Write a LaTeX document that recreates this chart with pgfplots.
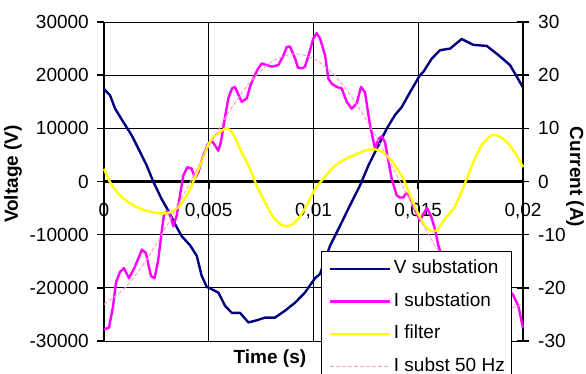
\documentclass[border=0pt]{standalone}
\usepackage{pgfplots}
\pgfplotsset{compat=1.18}
\usepackage{pgfplotstable}
\usepackage{fontspec}
\setmainfont{Liberation Sans}
\definecolor{vnavy}{RGB}{0,0,128}
\definecolor{imag}{RGB}{255,0,255}
\definecolor{iyel}{RGB}{255,255,0}
\definecolor{ipink}{RGB}{255,160,200}

\pgfplotstableread{
t v
0 17400
0.00029 16200
0.00053 13700
0.00092 11200
0.00132 8700
0.00164 6200
0.00204 3000
0.00235 0
0.00275 -3300
0.00307 -5500
0.00339 -8000
0.00371 -10300
0.00411 -12000
0.00443 -14000
0.00466 -17700
0.00490 -19800
0.00506 -20100
0.00546 -20900
0.00578 -23400
0.00610 -24700
0.00649 -24700
0.00689 -26500
0.00721 -26200
0.00769 -25600
0.00816 -25600
0.00864 -24300
0.00912 -22800
0.00959 -20900
0.01007 -18200
0.01031 -17400
0.01079 -12100
0.01127 -8300
0.01174 -4500
0.01222 -750
0.01262 3000
0.01302 6200
0.01349 9900
0.01389 12500
0.01421 14000
0.01461 16800
0.01508 20000
0.01524 20600
0.01564 23100
0.01604 24700
0.01652 25000
0.01707 26800
0.01763 25700
0.01827 25500
0.01882 23800
0.01938 21900
0.01994 18100
0.02 17700
}\vsub

\pgfplotstableread{
t i
0 -27.8
0.000239 -27.5
0.000430 -23.5
0.000573 -19.0
0.000764 -17.0
0.000955 -16.3
0.001193 -18.2
0.001480 -16.0
0.001814 -12.8
0.002005 -13.5
0.002243 -17.8
0.002411 -18.2
0.002578 -15.0
0.002721 -10.5
0.002864 -6.2
0.003031 -5.6
0.003150 -6.3
0.003308 -8.4
0.003470 -6.4
0.003628 -2.6
0.003785 1.1
0.003976 2.7
0.004186 2.4
0.004344 0.6
0.004501 1.7
0.004740 4.9
0.004964 7.0
0.005141 7.7
0.005298 6.8
0.005456 5.8
0.005585 7.5
0.005728 11.0
0.005933 15.6
0.006110 17.5
0.006253 17.8
0.006396 16.5
0.006573 15.0
0.006811 15.6
0.006969 17.8
0.007127 19.4
0.007351 21.2
0.007528 22.2
0.007766 21.9
0.008019 21.6
0.008320 21.9
0.008544 23.5
0.008721 25.3
0.008878 25.4
0.009117 23.2
0.009260 21.4
0.009451 21.3
0.009594 21.6
0.009785 24.0
0.009991 26.9
0.010153 27.9
0.010310 26.9
0.010549 23.8
0.010707 19.4
0.010869 18.4
0.011107 17.8
0.011346 17.5
0.011585 15.0
0.011823 13.7
0.012062 14.7
0.012267 17.8
0.012458 16.8
0.012697 10.6
0.012936 6.2
0.013103 8.0
0.013256 8.5
0.013413 7.4
0.013733 0.5
0.013971 -2.6
0.014129 -3.0
0.014287 -3.0
0.014415 -2.2
0.014559 -2.5
0.014749 -4.5
0.014926 -6.0
0.015084 -7.4
0.015227 -6.2
0.015418 -5.0
0.015609 -6.5
0.015800 -9.0
0.015957 -12.0
0.016277 -16.0
0.016754 -19.0
0.017470 -21.0
0.018425 -21.0
0.019141 -20.0
0.019508 -21.2
0.019776 -23.4
0.02 -27.5
}\isub

\pgfplotstableread{
t i
0 2.4
0.000286 -0.1
0.000764 -2.6
0.001399 -4.5
0.002038 -5.5
0.002673 -6.0
0.003150 -5.8
0.003628 -4.5
0.004105 -1.4
0.004582 3.0
0.005060 7.5
0.005537 9.3
0.005871 10.0
0.006172 8.9
0.006573 5.5
0.006969 2.4
0.007289 -0.75
0.007685 -3.9
0.008081 -6.7
0.008482 -8.2
0.008878 -8.3
0.009274 -7.0
0.009675 -4.5
0.010072 -1.4
0.010468 0.5
0.010945 2.7
0.011423 4.0
0.011900 4.9
0.012458 5.8
0.013017 6.0
0.013494 4.9
0.013890 3.0
0.014287 0.5
0.014687 -3.3
0.015165 -7.4
0.015561 -9.2
0.015881 -9.2
0.016277 -7.0
0.016673 -5.2
0.016993 -2.6
0.017313 0.5
0.017628 3.6
0.018029 6.8
0.018506 8.7
0.018902 8.4
0.019298 7.1
0.019699 4.9
0.02 2.7
}\ifil

\pgfplotstableread{
t i
0 -23.1
0.001 -20.0
0.002 -14.9
0.003 -8.3
0.004 -1.0
0.005 6.5
0.006 13.3
0.007 18.8
0.008 22.5
0.009 24.0
0.010 23.1
0.011 20.0
0.012 14.9
0.013 8.3
0.014 1.0
0.015 -6.5
0.016 -13.3
0.017 -18.8
0.018 -22.5
0.019 -24.0
0.020 -23.1
}\ifund

\begin{document}
\begin{tikzpicture}
\pgfplotsset{
  common/.style={
    scale only axis, width=419bp, height=319bp,
    xmin=0, xmax=0.02,
    scaled ticks=false,
    font=\fontsize{19bp}{22bp}\selectfont,
    /pgf/number format/assume math mode=true,
    clip=false,
  },
}
\begin{axis}[common,
  ymin=-30000, ymax=30000,
  axis x line*=middle, axis y line*=left,
  hide obscured x ticks=false,
  xtick={0,0.005,0.01,0.015,0.02},
  xticklabels={0,{0,005},{0,01},{0,015},{0,02}},
  ytick={-30000,-20000,-10000,0,10000,20000,30000},
  yticklabels={-30000,-20000,-10000,0,10000,20000,30000},
  grid=major, major grid style={black, line width=0.9bp},
  axis line style={black, line width=2.2bp},
  tick style={black, line width=1.6bp},
  tick align=outside, major tick length=7bp,
  xticklabel style={anchor=north, inner sep=0pt, yshift=-15bp},
  yticklabel style={anchor=east, inner sep=0pt, xshift=-8bp},
]
\addplot[vnavy, line width=2.4bp, line join=round] table[x=t, y=v] {\vsub};
\node[rotate=90, inner sep=0pt, font=\fontsize{19bp}{22bp}\selectfont\bfseries] at (axis description cs:-0.2172,0.5235) {Voltage (V)};
\node[rotate=-90, inner sep=0pt, font=\fontsize{19bp}{22bp}\selectfont\bfseries] at (axis description cs:1.124,0.514) {Current (A)};
\node[inner sep=0pt, font=\fontsize{19bp}{22bp}\selectfont\bfseries] at (axis description cs:0.396,-0.0564) {Time (s)};
\end{axis}
\begin{axis}[common,
  ymin=-30, ymax=30,
  axis x line=none, axis y line*=right,
  ytick={-30,-20,-10,0,10,20,30},
  yticklabels={-30,-20,-10,0,10,20,30},
  axis line style={black, line width=2.2bp},
  tick style={black, line width=1.6bp},
  tick align=center, major tick length=12bp,
  yticklabel style={anchor=west, inner sep=0pt, xshift=9bp},
  legend style={at={(axis description cs:0.518,0.2806)}, anchor=north west,
    draw=black, line width=0.9bp, fill=white,
    font=\fontsize{19bp}{22bp}\selectfont,
    inner xsep=7bp, inner ysep=8bp, row sep=14.5bp, column sep=3bp,
    nodes={inner sep=0pt, text height=14bp, text depth=4bp}},
  legend cell align=left,
  legend image code/.code={\draw[#1] (0bp,0bp) -- (60bp,0bp);},
]
\addlegendimage{vnavy, line width=2.4bp}
\addlegendentry{V substation}
\addplot[imag, line width=2.4bp, line join=round] table[x=t, y=i] {\isub};
\addlegendentry{I substation}
\addplot[iyel, line width=2.4bp, smooth] table[x=t, y=i] {\ifil};
\addlegendentry{I filter}
\addplot[ipink, line width=1bp, dash pattern=on 4bp off 2bp, smooth] table[x=t, y=i] {\ifund};
\addlegendentry{I subst 50 Hz}
\end{axis}
\pgfresetboundingbox
\path[use as bounding box] (-104bp,-33bp) rectangle (482bp,341bp);
\end{tikzpicture}
\end{document}
